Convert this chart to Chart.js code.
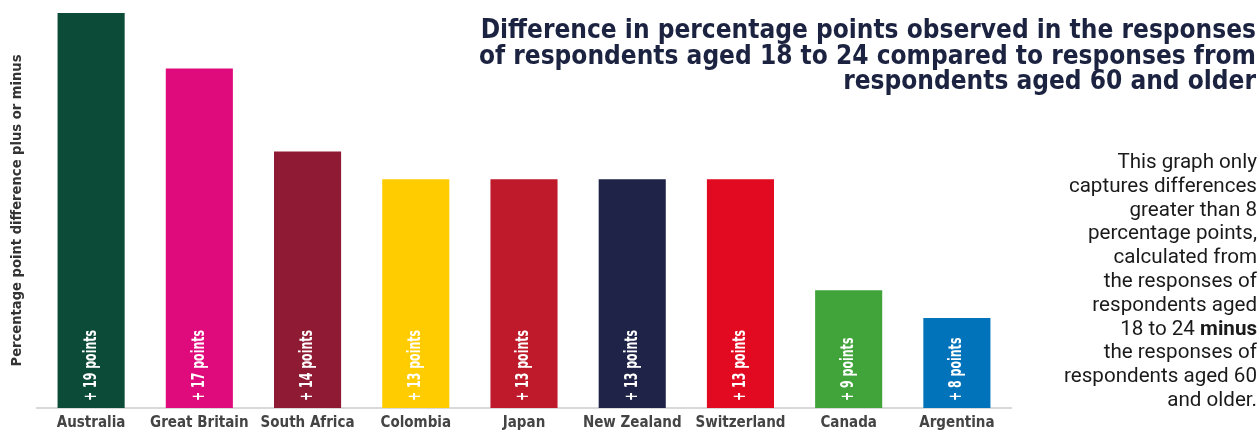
<!DOCTYPE html>
<html>
<head>
<meta charset="utf-8">
<script src="https://cdn.jsdelivr.net/npm/chart.js@4"></script>
<style>
  html, body { margin: 0; padding: 0; background: #fff; }
  #wrap { position: relative; width: 1260px; height: 432px; overflow: hidden; }
  #chart { position: absolute; left: 0; top: 0; }
  #title {
    position: absolute; right: 4px; top: 17px;
    font-family: "Liberation Sans Narrow", "DejaVu Sans Condensed", sans-serif;
    font-weight: bold; font-size: 26px; line-height: 25.5px;
    color: #1b2341; text-align: right; white-space: nowrap;
  }
  #note {
    position: absolute; right: 3px; top: 150px;
    font-family: Roboto, "Noto Sans", sans-serif;
    font-size: 20.6px; line-height: 23.8px;
    color: #1a1a1a; text-align: right; white-space: nowrap;
  }
</style>
</head>
<body>
<div id="wrap">
  <canvas id="chart" width="1260" height="432"></canvas>
  <div id="title">Difference in percentage points observed in the responses<br>of respondents aged 18 to 24 compared to responses from<br>respondents aged 60 and older</div>
  <div id="note">This graph only<br>captures differences<br>greater than 8<br>percentage points,<br>calculated from<br>the responses of<br>respondents aged<br>18 to 24 <b>minus</b><br>the responses of<br>respondents aged 60<br>and older.</div>
</div>
<script>
// data
const countries = ['Australia', 'Great Britain', 'South Africa', 'Colombia', 'Japan',
  'New Zealand', 'Switzerland', 'Canada', 'Argentina'];
const diffPoints = [19, 17, 14, 13, 13, 13, 13, 9, 8];
const barColors = ['#0b4b37', '#df0a7b', '#8f1a33', '#ffcc00', '#be1a2b',
  '#1e2347', '#e20a20', '#40a43a', '#0073ba'];
const yAxisLabel = 'Percentage point difference plus or minus';

const narrow = '"Liberation Sans Narrow", "DejaVu Sans Condensed", sans-serif';

// white rotated "+ n points" inside each bar, squeezed a bit to look condensed
const barLabels = {
  id: 'barLabels',
  afterDatasetsDraw(chart) {
    const ctx = chart.ctx;
    const meta = chart.getDatasetMeta(0);
    const bottom = chart.chartArea.bottom;
    ctx.save();
    ctx.fillStyle = '#ffffff';
    ctx.font = 'bold 17px ' + narrow;
    ctx.textAlign = 'left';
    ctx.textBaseline = 'middle';
    meta.data.forEach((bar, i) => {
      const { x } = bar.getProps(['x'], true);
      ctx.save();
      ctx.translate(x, bottom - 7);
      ctx.rotate(-Math.PI / 2);
      ctx.scale(0.72, 1);
      ctx.fillText('+ ' + diffPoints[i] + ' points', 0, 0);
      ctx.restore();
    });
    ctx.restore();
  },
};

new Chart(document.getElementById('chart').getContext('2d'), {
  type: 'bar',
  data: {
    labels: countries,
    datasets: [{
      data: diffPoints,
      backgroundColor: barColors,
      borderWidth: 0,
      barPercentage: 0.62,
      categoryPercentage: 1,
    }],
  },
  options: {
    responsive: false,
    animation: false,
    layout: { padding: { top: 13, right: 249, bottom: 0, left: 0 } },
    plugins: {
      legend: { display: false },
      tooltip: { enabled: false },
    },
    scales: {
      x: {
        grid: { display: true, drawOnChartArea: false, drawTicks: false },
        border: { display: true, color: '#d9d9d9', width: 2 },
        ticks: {
          color: '#444444',
          padding: 6,
          autoSkip: false,
          maxRotation: 0,
          minRotation: 0,
          font: { family: narrow, weight: 'bold', size: 15 },
        },
        afterFit: (scale) => { scale.height = 24; },
      },
      y: {
        min: 4.75,
        max: 19,
        grid: { display: false },
        border: { display: false },
        ticks: { display: false },
        title: {
          display: true,
          text: yAxisLabel,
          color: '#333333',
          padding: { top: 8, bottom: 0 },
          font: { family: narrow, weight: 'bold', size: 14.6 },
        },
        afterFit: (scale) => { scale.width = 37; },
      },
    },
  },
  plugins: [barLabels],
});
</script>
</body>
</html>
